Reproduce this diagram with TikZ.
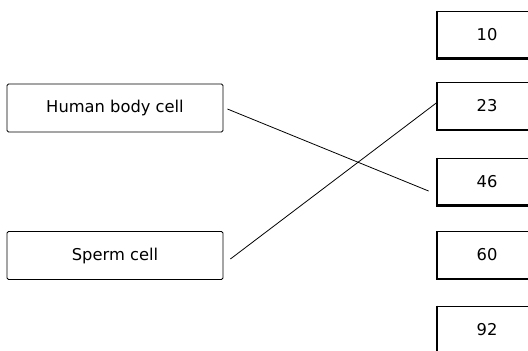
\documentclass[tikz,border=0pt]{standalone}
\usepackage{fontspec}
\setmainfont{DejaVu Sans}

\begin{document}
\begin{tikzpicture}[x=1pt,y=-1pt,
  cellbox/.style={draw, line width=0.8pt, rounded corners=1.5pt, minimum width=216pt, minimum height=48pt, font=\fontsize{16.3}{19}\selectfont},
  numbox/.style={draw, line width=0.8pt, minimum width=100pt, minimum height=47pt, font=\fontsize{16.3}{19}\selectfont},
  edge/.style={draw, line width=0.8pt}]
\clip (0,0) rectangle (528,351);
\node[cellbox] (human) at (115,108) {Human body cell};
\node[cellbox] (sperm) at (115,255.5) {Sperm cell};
\foreach \lbl/\y in {10/34.5, 23/106, 46/181.5, 60/255, 92/329.5} {
  \node[numbox] (n\lbl) at (487,\y) {\lbl};
  \draw[line width=2.2pt] (n\lbl.north west) -- (n\lbl.south west) -- (n\lbl.south east);
}
\draw[edge] ([shift={(4,1)}]human.east) -- ([shift={(-8,9.5)}]n46.west);
\draw[edge] ([shift={(7,3.5)}]sperm.east) -- ([shift={(1,-4)}]n23.west);
\end{tikzpicture}
\end{document}
